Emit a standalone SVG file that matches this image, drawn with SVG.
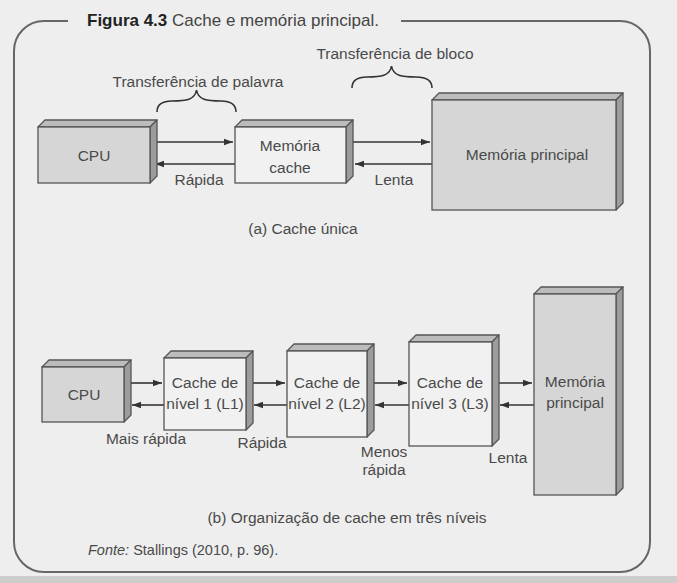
<svg xmlns="http://www.w3.org/2000/svg" width="677" height="583" viewBox="0 0 677 583">
<defs>
<style>
text{font-family:"Liberation Sans",Arial,sans-serif;font-size:15.5px;fill:#4a4a4a;text-anchor:middle}
.t{font-size:17px;text-anchor:start;fill:#444}
.tb{font-weight:bold;fill:#222}
.front{stroke:#555;stroke-width:1.3}
.dark{fill:#d6d6d6}
.light{fill:#f1f1f1}
.top{fill:#bcbcbc;stroke:#555;stroke-width:1.3;stroke-linejoin:round}
.side{fill:#9c9c9c;stroke:#555;stroke-width:1.3;stroke-linejoin:round}
.arr{stroke:#333;stroke-width:1.6;fill:none;marker-end:url(#ah)}
.brace{stroke:#333;stroke-width:1.6;fill:none}
</style>
<marker id="ah" markerUnits="userSpaceOnUse" markerWidth="10" markerHeight="8" refX="9" refY="4" orient="auto">
<path d="M0,0.8 L9,4 L0,7.2 Z" fill="#333"/>
</marker>
</defs>
<rect width="677" height="583" fill="#eeeeee"/>
<rect y="576" width="677" height="7" fill="#cdcdcd"/>
<path d="M68,21 H44 A30,30 0 0 0 14,51 V542 A30,30 0 0 0 44,572 H620 A30,30 0 0 0 650,542 V51 A30,30 0 0 0 620,21 H401" fill="none" stroke="#666" stroke-width="2"/>
<text class="t" x="87" y="26"><tspan class="tb">Figura 4.3</tspan> Cache e memória principal.</text>

<g id="connectors">
<line class="arr" x1="157" y1="142" x2="233" y2="142"/>
<line class="arr" x1="235" y1="164" x2="155" y2="164"/>
<line class="arr" x1="353" y1="142" x2="430" y2="142"/>
<line class="arr" x1="432" y1="164" x2="355" y2="164"/>
<line class="arr" x1="131" y1="383" x2="162" y2="383"/>
<line class="arr" x1="164" y1="405" x2="132" y2="405"/>
<line class="arr" x1="253" y1="383" x2="285" y2="383"/>
<line class="arr" x1="287" y1="405" x2="254" y2="405"/>
<line class="arr" x1="374" y1="383" x2="407" y2="383"/>
<line class="arr" x1="409" y1="405" x2="375" y2="405"/>
<line class="arr" x1="499" y1="383" x2="532" y2="383"/>
<line class="arr" x1="534" y1="405" x2="500" y2="405"/>
</g>

<g id="braces">
<path class="brace" d="M157,112 C157,104 162,101 172,101 C186,101 195,100 196.5,90 C198,100 207,101 221,101 C231,101 236,104 236,112"/>
<path class="brace" d="M352,88 C352,80 357,77 367,77 C381,77 390,76 391.5,66 C393,76 402,77 416,77 C426,77 432,80 432,88"/>
<text x="198" y="87">Transferência de palavra</text>
<text x="395" y="59">Transferência de bloco</text>
</g>

<g id="a-cpu">
<polygon class="top" points="38,127 45,120 157,120 150,127"/>
<polygon class="side" points="150,127 157,120 157,176 150,183"/>
<rect class="front dark" x="38" y="127" width="112" height="56"/>
<text x="94" y="161">CPU</text>
</g>
<g id="a-cache">
<polygon class="top" points="235,127 242,120 353,120 346,127"/>
<polygon class="side" points="346,127 353,120 353,176 346,183"/>
<rect class="front light" x="235" y="127" width="111" height="56"/>
<text x="290" y="151">Memória</text>
<text x="290" y="173">cache</text>
</g>
<g id="a-mem">
<polygon class="top" points="432,100 439,93 623,93 616,100"/>
<polygon class="side" points="616,100 623,93 623,203 616,210"/>
<rect class="front dark" x="432" y="100" width="184" height="110"/>
<text x="527" y="160">Memória principal</text>
</g>
<text x="199" y="185">Rápida</text>
<text x="394" y="185">Lenta</text>
<text x="303" y="234">(a) Cache única</text>

<g id="b-cpu">
<polygon class="top" points="42,367 49,360 131,360 124,367"/>
<polygon class="side" points="124,367 131,360 131,415 124,422"/>
<rect class="front dark" x="42" y="367" width="82" height="55"/>
<text x="84" y="400">CPU</text>
</g>
<g id="b-l1">
<polygon class="top" points="164,358 171,351 253,351 246,358"/>
<polygon class="side" points="246,358 253,351 253,423 246,430"/>
<rect class="front light" x="164" y="358" width="82" height="72"/>
<text x="205" y="388">Cache de</text>
<text x="205" y="409">nível 1 (L1)</text>
</g>
<g id="b-l2">
<polygon class="top" points="287,351 294,344 374,344 367,351"/>
<polygon class="side" points="367,351 374,344 374,430 367,437"/>
<rect class="front light" x="287" y="351" width="80" height="86"/>
<text x="327" y="388">Cache de</text>
<text x="327" y="409">nível 2 (L2)</text>
</g>
<g id="b-l3">
<polygon class="top" points="409,342 416,335 499,335 492,342"/>
<polygon class="side" points="492,342 499,335 499,439 492,446"/>
<rect class="front light" x="409" y="342" width="83" height="104"/>
<text x="450" y="388">Cache de</text>
<text x="450" y="409">nível 3 (L3)</text>
</g>
<g id="b-mem">
<polygon class="top" points="534,294 541,287 623,287 616,294"/>
<polygon class="side" points="616,294 623,287 623,488 616,495"/>
<rect class="front dark" x="534" y="294" width="82" height="201"/>
<text x="575" y="387">Memória</text>
<text x="575" y="408">principal</text>
</g>
<text x="146" y="444">Mais rápida</text>
<text x="262" y="448">Rápida</text>
<text x="384" y="457">Menos</text>
<text x="384" y="475">rápida</text>
<text x="508" y="463">Lenta</text>
<text x="347" y="523">(b) Organização de cache em três níveis</text>
<text x="88" y="555" style="text-anchor:start;font-size:14.5px"><tspan font-style="italic">Fonte:</tspan> Stallings (2010, p. 96).</text>
</svg>
